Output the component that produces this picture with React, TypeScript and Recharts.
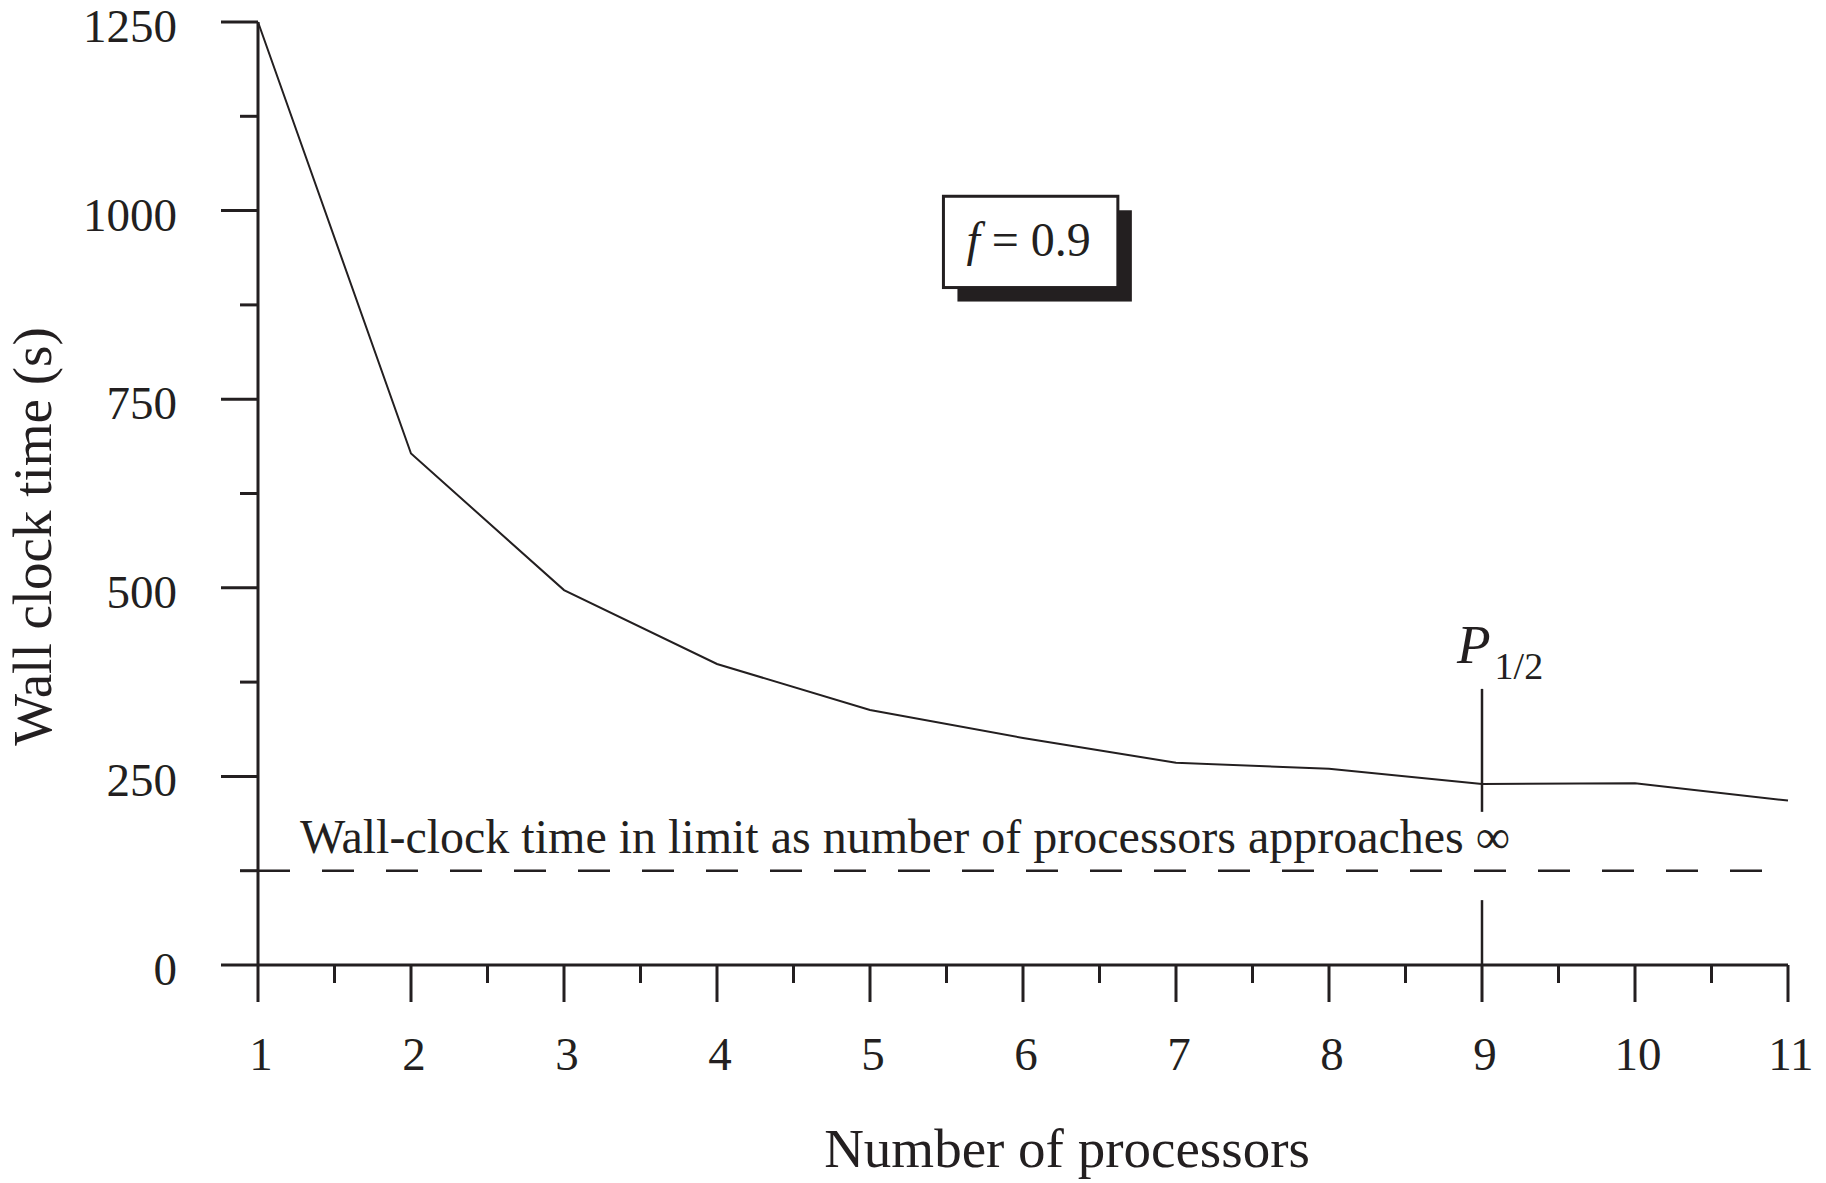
import {
  LineChart,
  Line,
  XAxis,
  YAxis,
  ReferenceLine,
  ReferenceArea,
  ReferenceDot,
} from 'recharts';

const INK = '#231f20';
const FONT = '"Liberation Serif", "Times New Roman", serif';

// measured wall clock time (s) per number of processors
const processors = [1, 2, 3, 4, 5, 6, 7, 8, 9, 10, 11];
const wallClock = [1250, 678, 497, 399, 338, 301, 268, 260, 240, 241, 218];

// limit as number of processors approaches infinity (serial part, f = 0.9)
const limitTime = 125;
const halfPerfProcs = 9;

const xTicks = [1, 1.5, 2, 2.5, 3, 3.5, 4, 4.5, 5, 5.5, 6, 6.5, 7, 7.5, 8, 8.5, 9, 9.5, 10, 10.5, 11];
const yTicks = [0, 125, 250, 375, 500, 625, 750, 875, 1000, 1125, 1250];

const data = processors.map((p, i) => ({ p, t: wallClock[i] }));

const XTick = ({ x, y, payload }: any) => {
  const major = Number.isInteger(payload.value);
  return (
    <g>
      <line x1={x} x2={x} y1={y} y2={y + (major ? 37 : 18)} stroke={INK} strokeWidth={3} />
      {major && (
        <text x={x + 3} y={y + 105} textAnchor="middle" fontFamily={FONT} fontSize={47} fill={INK}>
          {payload.value}
        </text>
      )}
    </g>
  );
};

const YTick = ({ x, y, payload }: any) => {
  const major = payload.value % 250 === 0;
  return (
    <g>
      <line x1={x - (major ? 37 : 18)} x2={x} y1={y} y2={y} stroke={INK} strokeWidth={3} />
      {major && (
        <text x={x - 81} y={y + 20} textAnchor="end" fontFamily={FONT} fontSize={47} fill={INK}>
          {payload.value}
        </text>
      )}
    </g>
  );
};

const YTitle = ({ viewBox }: any) => {
  const cx = viewBox.x + 51;
  const cy = viewBox.y + viewBox.height / 2 + 43;
  return (
    <text
      x={cx}
      y={cy}
      transform={`rotate(-90, ${cx}, ${cy})`}
      textAnchor="middle"
      fontFamily={FONT}
      fontSize={55}
      fill={INK}
    >
      Wall clock time (s)
    </text>
  );
};

const XTitle = ({ viewBox }: any) => (
  <text
    x={viewBox.x + viewBox.width / 2 + 44}
    y={viewBox.y + 202}
    textAnchor="middle"
    fontFamily={FONT}
    fontSize={55}
    fill={INK}
  >
    Number of processors
  </text>
);

const FBox = ({ x, y, width, height }: any) => (
  <g>
    <rect x={x + 14} y={y + 14} width={width} height={height} fill={INK} />
    <rect x={x} y={y} width={width} height={height} fill="#fff" stroke={INK} strokeWidth={3} />
    <text x={x + width / 2 - 2} y={y + 60} textAnchor="middle" fontFamily={FONT} fontSize={48} fill={INK}>
      <tspan fontStyle="italic">f</tspan>
      <tspan> = 0.9</tspan>
    </text>
  </g>
);

const LimitText = ({ cx, cy }: any) => (
  <text x={cx + 42} y={cy - 18} fontFamily={FONT} fontSize={48} fill={INK}>
    Wall-clock time in limit as number of processors approaches ∞
  </text>
);

const PHalf = ({ cx, cy }: any) => (
  <text x={cx - 25} y={cy - 26} fontFamily={FONT} fill={INK}>
    <tspan fontSize={55} fontStyle="italic">P</tspan>
    <tspan fontSize={38} dx={4} dy={16}>1/2</tspan>
  </text>
);

export default function App() {
  return (
    <div style={{ position: 'absolute', left: 0, top: 0, background: '#fff' }}>
      <LineChart width={1826} height={1183} data={data} margin={{ top: 22, right: 38, bottom: 0, left: 0 }}>
        <XAxis
          dataKey="p"
          type="number"
          domain={[1, 11]}
          ticks={xTicks}
          interval={0}
          tick={<XTick />}
          tickLine={false}
          tickSize={0}
          tickMargin={0}
          height={218}
          axisLine={{ stroke: INK, strokeWidth: 3 }}
          label={<XTitle />}
        />
        <XAxis
          xAxisId="top"
          orientation="top"
          type="number"
          domain={[1, 11]}
          tick={false}
          tickLine={false}
          height={0}
          axisLine={{ stroke: INK, strokeWidth: 3 }}
        />
        <YAxis
          type="number"
          domain={[0, 1250]}
          ticks={yTicks}
          interval={0}
          tick={<YTick />}
          tickLine={false}
          tickSize={0}
          tickMargin={0}
          width={258}
          axisLine={{ stroke: INK, strokeWidth: 3 }}
          label={<YTitle />}
        />
        <YAxis
          yAxisId="right"
          orientation="right"
          type="number"
          domain={[0, 1250]}
          tick={false}
          tickLine={false}
          width={0}
          axisLine={{ stroke: INK, strokeWidth: 3 }}
        />
        <ReferenceArea x1={5.48} x2={6.62} y1={898} y2={1019} shape={<FBox />} />
        <ReferenceLine y={limitTime} stroke={INK} strokeWidth={2.5} strokeDasharray="32 32" />
        <ReferenceDot x={1} y={limitTime} r={0} shape={<LimitText />} />
        <ReferenceLine
          segment={[{ x: halfPerfProcs, y: 366 }, { x: halfPerfProcs, y: 203 }]}
          stroke={INK}
          strokeWidth={2.5}
        />
        <ReferenceLine
          segment={[{ x: halfPerfProcs, y: 86 }, { x: halfPerfProcs, y: 0 }]}
          stroke={INK}
          strokeWidth={2.5}
        />
        <ReferenceDot x={halfPerfProcs} y={366} r={0} shape={<PHalf />} />
        <Line
          type="linear"
          dataKey="t"
          stroke={INK}
          strokeWidth={2}
          dot={false}
          isAnimationActive={false}
        />
      </LineChart>
    </div>
  );
}
